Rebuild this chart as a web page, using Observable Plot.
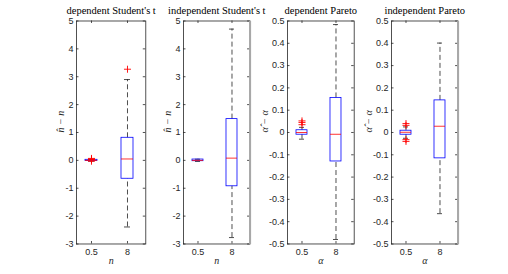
<!DOCTYPE html>
<html><head><meta charset="utf-8">
<script src="https://cdn.jsdelivr.net/npm/d3@7"></script>
<script src="https://cdn.jsdelivr.net/npm/@observablehq/plot@0.6"></script>
<style>
body{margin:0;background:#fff;}
#fig{position:relative;width:508px;height:274px;overflow:hidden;background:#fff;}
#fig svg{position:absolute;top:0;}
</style></head><body><div id="fig"></div>
<script>
// ---------- data ----------
const categories = ["0.5", "8"];
const titles = ["dependent Student's t", "independent Student's t", "dependent Pareto", "independent Pareto"];
const yLabels = ["n\u0302 \u2212 n", "n\u0302 \u2212 n", "\u03B1\u0302 \u2212 \u03B1", "\u03B1\u0302 \u2212 \u03B1"];
const xLabels = ["n", "n", "\u03B1", "\u03B1"];

const tTicks = [-3, -2, -1, 0, 1, 2, 3, 4, 5];
const tTickLabels = ["-3", "-2", "-1", "0", "1", "2", "3", "4", "5"];
const pTicks = [-0.5, -0.4, -0.3, -0.2, -0.1, 0, 0.1, 0.2, 0.3, 0.4, 0.5];
const pTickLabels = ["-0.5", "-0.4", "-0.3", "-0.2", "-0.1", "0", "0.1", "0.2", "0.3", "0.4", "0.5"];

// dependent Student's t
const depT_lo  = [-0.03, -2.39];
const depT_q1  = [-0.02, -0.66];
const depT_med = [0.0, 0.05];
const depT_q3  = [0.02, 0.81];
const depT_hi  = [0.03, 2.90];
const depT_out = [[0.03, 0.05, 0.07, -0.03], [3.27]];

// independent Student's t
const indT_lo  = [-0.04, -2.77];
const indT_q1  = [-0.03, -0.93];
const indT_med = [0.0, 0.08];
const indT_q3  = [0.03, 1.48];
const indT_hi  = [0.04, 4.71];
const indT_out = [[], []];

// dependent Pareto
const depP_lo  = [-0.03, -0.48];
const depP_q1  = [-0.01, -0.13];
const depP_med = [0.0, -0.008];
const depP_q3  = [0.01, 0.155];
const depP_hi  = [0.023, 0.484];
const depP_out = [[0.035, 0.045, 0.052], []];

// independent Pareto
const indP_lo  = [-0.026, -0.364];
const indP_q1  = [-0.01, -0.116];
const indP_med = [0.001, 0.028];
const indP_q3  = [0.008, 0.144];
const indP_hi  = [0.025, 0.401];
const indP_out = [[0.032, 0.04, -0.032, -0.04], []];

// ---------- layout ----------
const panelLeft = [76, 182.7, 287.3, 390.7];
const panelWidth = [69.3, 66.6, 66.7, 66.6];
const yLabelOffset = [-16, -16, -23, -23];
const grayRightEdge = [false, true, false, true];
const ML = 60, MR = 10, MT = 20.5, MB = 30.5, H = 274;
const PH = H - MT - MB;
const axisColor = "#262626";
const sans = "'Liberation Sans', Arial, Helvetica, sans-serif";
const serif = "'Liberation Serif', 'DejaVu Serif', serif";

const panels = [
  {lo: depT_lo, q1: depT_q1, med: depT_med, q3: depT_q3, hi: depT_hi, out: depT_out, ticks: tTicks, labels: tTickLabels, domain: [-3, 5]},
  {lo: indT_lo, q1: indT_q1, med: indT_med, q3: indT_q3, hi: indT_hi, out: indT_out, ticks: tTicks, labels: tTickLabels, domain: [-3, 5]},
  {lo: depP_lo, q1: depP_q1, med: depP_med, q3: depP_q3, hi: depP_hi, out: depP_out, ticks: pTicks, labels: pTickLabels, domain: [-0.5, 0.5]},
  {lo: indP_lo, q1: indP_q1, med: indP_med, q3: indP_q3, hi: indP_hi, out: indP_out, ticks: pTicks, labels: pTickLabels, domain: [-0.5, 0.5]}
];

const fig = document.getElementById("fig");
panels.forEach((p, k) => {
  const pw = panelWidth[k];
  const idx = categories.map((c, i) => i);
  const outliers = p.out.flatMap((arr, i) => arr.map(v => ({c: categories[i], v})));
  const marks = [
    // whiskers
    Plot.ruleX(idx, {x: i => categories[i], y1: i => p.q3[i], y2: i => p.hi[i], stroke: "#222", strokeWidth: 0.8, strokeDasharray: "5,3"}),
    Plot.ruleX(idx, {x: i => categories[i], y1: i => p.lo[i], y2: i => p.q1[i], stroke: "#222", strokeWidth: 0.8, strokeDasharray: "5,3"}),
    Plot.tickY(idx, {x: i => categories[i], y: i => p.hi[i], inset: 3, stroke: "#222", strokeWidth: 0.8}),
    Plot.tickY(idx, {x: i => categories[i], y: i => p.lo[i], inset: 3, stroke: "#222", strokeWidth: 0.8}),
    // boxes
    Plot.barY(idx, {x: i => categories[i], y1: i => p.q1[i], y2: i => p.q3[i], fill: "none", stroke: "#0000ff", strokeWidth: 0.8}),
    Plot.tickY(idx, {x: i => categories[i], y: i => p.med[i], stroke: "#ff0000", strokeWidth: 0.8}),
    // outliers
    Plot.dot(outliers, {x: "c", y: "v", symbol: "plus", r: 2.4, stroke: "#ff0000", strokeWidth: 0.9}),
    // frame + ticks
    Plot.frame({stroke: axisColor, strokeWidth: 0.8}),
    Plot.tickY(p.ticks, {y: d => d, insetRight: pw - 2.5, stroke: axisColor, strokeWidth: 0.8}),
    Plot.tickY(p.ticks, {y: d => d, insetLeft: pw - 2.5, stroke: axisColor, strokeWidth: 0.8}),
    Plot.tickX(categories, {x: d => d, insetBottom: PH - 2.5, stroke: axisColor, strokeWidth: 0.8}),
    Plot.tickX(categories, {x: d => d, insetTop: PH - 2.5, stroke: axisColor, strokeWidth: 0.8}),
    Plot.axisY(p.ticks, {tickSize: 0, tickPadding: 3, tickFormat: d => p.labels[p.ticks.indexOf(d)], fontSize: 9, fontFamily: sans, fill: axisColor, label: null}),
    Plot.axisX(categories, {tickSize: 0, tickPadding: 5, fontSize: 9, fontFamily: sans, fill: axisColor, label: null}),
    // texts
    Plot.text([titles[k]], {text: d => d, frameAnchor: "top", dy: -14, fontSize: 10.5, fontFamily: serif, fill: "#000"}),
    Plot.text([yLabels[k]], {text: d => d, frameAnchor: "left", rotate: -90, dx: yLabelOffset[k], fontSize: 10, fontFamily: serif, fontStyle: "italic", fill: axisColor}),
    Plot.text([xLabels[k]], {text: d => d, frameAnchor: "bottom", dy: 20, fontSize: 10, fontFamily: serif, fontStyle: "italic", fill: axisColor})
  ];
  if (grayRightEdge[k]) marks.push(Plot.frame({insetLeft: pw - 1, insetRight: -1, fill: "#a8a8a8", stroke: null}));
  const svg = Plot.plot({
    width: ML + pw + MR, height: H,
    marginLeft: ML, marginRight: MR, marginTop: MT, marginBottom: MB,
    style: {background: "none", overflow: "visible"},
    x: {type: "band", domain: categories, paddingInner: 0.67, paddingOuter: 0.29, align: 0.43, axis: null},
    y: {domain: p.domain, axis: null},
    marks
  });
  svg.style.left = (panelLeft[k] - ML) + "px";
  fig.appendChild(svg);
});
</script>
</body></html>
